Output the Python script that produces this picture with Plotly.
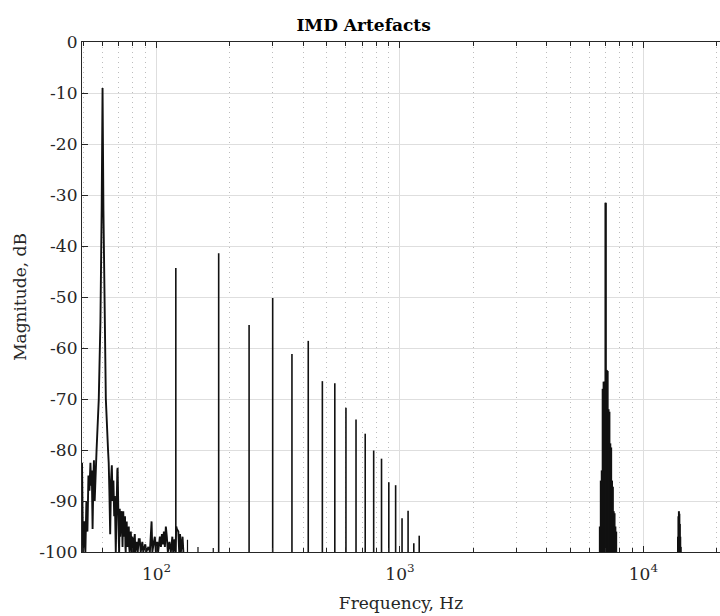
import math
import plotly.graph_objects as go

# ---- spectrum data -------------------------------------------------------
# Low band: noise floor plus the leakage skirt of the 60 Hz tone
LF_FREQ_HZ = [49.4, 49.9, 50.5, 51.0, 51.5, 52.0, 52.5, 53.0, 53.5, 53.9,
              54.2, 54.6, 55.0, 55.3, 55.7, 56.3, 56.7, 57.9, 58.8, 59.5,
              60.0, 60.5, 61.1, 61.9, 63.2, 63.6, 64.0, 64.5, 65.0, 65.5,
              66.0, 66.5, 67.0, 67.4, 68.0, 68.4, 68.7, 69.0, 69.2, 69.5,
              69.7, 70.0, 70.2, 70.4, 70.6, 70.9, 71.1, 71.3, 71.6, 72.0,
              72.3, 72.5, 72.8, 73.0, 73.3, 73.7, 74.0, 74.2, 74.5, 74.7,
              75.0, 75.4, 75.8, 76.2, 76.5, 76.9, 77.2, 77.5, 78.0, 78.4,
              78.8, 79.1, 79.5, 79.8, 80.2, 80.6, 81.0, 81.4, 81.8, 82.2,
              82.9, 83.7, 84.5, 85.3, 86.1, 87.4, 88.2, 89.9, 90.7, 92.6,
              93.9, 95.4, 96.1, 97.5, 98.4, 99.3, 100.6, 101.5, 103.2, 104.2,
              105.2, 106.2, 107.2, 108.2, 109.2, 110.2, 111.3, 112.9, 114.5, 116.1,
              117.0, 118.5, 119.5, 120.5, 121.2, 122.9, 123.9, 124.9, 125.9, 127.9,
              128.9]
LF_LEVEL_DB = [-82.5, -100, -94, -100, -90, -96, -85, -88, -82.5, -87,
               -84, -95.5, -86, -82, -90, -83, -80, -70, -55, -33,
               -9, -33, -55, -70, -80, -82.5, -88, -96.5, -86, -83,
               -90, -86, -93, -89, -100, -88, -90, -84, -83.5, -95,
               -92, -98, -100, -92, -91.5, -97, -93, -95, -92.5, -92,
               -97, -99, -93, -92, -96, -97, -94, -93, -99, -100,
               -95, -94, -99, -98, -96, -95, -99, -100, -97, -96,
               -99, -100, -97, -97.5, -100, -100, -98, -96.5, -100, -99,
               -98, -100, -97.5, -97.5, -100, -98, -100, -98.5, -100, -99,
               -100, -94, -100, -98, -97, -100, -98, -100, -97, -99,
               -96.5, -98.5, -96, -99, -95, -97, -100, -98, -100, -97,
               -100, -97.5, -100, -95, -95.5, -96, -100, -96.5, -100, -97,
               -100]

# Harmonics of the 60 Hz tone
HARM_FREQ_HZ = [120, 180, 240, 300, 360, 420, 480, 540, 600, 660,
                720, 780, 840, 900, 960, 1020, 1080, 1140, 1200]
HARM_LEVEL_DB = [-44.3, -41.4, -55.5, -50.2, -61.2, -58.6, -66.5, -66.9, -71.7, -74.0,
                 -76.8, -80.1, -81.7, -86.3, -86.9, -93.4, -91.9, -98.3, -96.8]

# Small spurs just above the floor
SPUR_FREQ_HZ = [134, 148, 171]
SPUR_LEVEL_DB = [-97.6, -99, -99.2]

# 7 kHz tone with its intermodulation sidebands
SB_FREQ_HZ = [6640, 6700, 6760, 6820, 6880, 6940, 7000, 7060, 7120, 7180,
              7240, 7300, 7360, 7420, 7480, 7540, 7600, 7660, 7720]
SB_LEVEL_DB = [-95, -86, -84, -68, -66.6, -66.6, -31.5, -64.3, -64.5, -72,
               -72.5, -78.7, -79.5, -86, -87.2, -92, -92.4, -95, -96]

# Second harmonic of the 7 kHz tone
H2_FREQ_HZ = [13880, 13940, 14000, 14060, 14120, 14180, 14240]
H2_LEVEL_DB = [-97, -93, -92, -92.5, -94.5, -97, -99]

Y_TICKS = [-100, -90, -80, -70, -60, -50, -40, -30, -20, -10, 0]
Y_TICK_LABELS = ["-100", "-90", "-80", "-70", "-60", "-50", "-40", "-30", "-20", "-10", "0"]
X_TICKS = [100, 1000, 10000]
X_TICK_LABELS = ["10<sup>2</sup>", "10<sup>3</sup>", "10<sup>4</sup>"]
X_MINOR_TICKS = [50, 60, 70, 80, 90,
                 200, 300, 400, 500, 600, 700, 800, 900,
                 2000, 3000, 4000, 5000, 6000, 7000, 8000, 9000,
                 20000]

X_LIMITS_HZ = [49.4, 20650]
Y_LIMITS_DB = [-100, 0]
FLOOR_DB = Y_LIMITS_DB[0]

FONT = "DejaVu Serif"
LINE = "#111111"
AXIS = "#262626"


def stems(freqs, levels):
    """Vertical lines from the axis floor up to each spectral line."""
    xs, ys = [], []
    for f, v in zip(freqs, levels):
        xs += [f, f, None]
        ys += [FLOOR_DB, v, None]
    return xs, ys


fig = go.Figure()

fig.add_trace(go.Scatter(x=LF_FREQ_HZ, y=LF_LEVEL_DB, mode="lines",
                         line=dict(color=LINE, width=1.9), showlegend=False))

for fr, lv, w in [(HARM_FREQ_HZ, HARM_LEVEL_DB, 1.6),
                  (SPUR_FREQ_HZ, SPUR_LEVEL_DB, 1.2),
                  (SB_FREQ_HZ, SB_LEVEL_DB, 2.4),
                  (H2_FREQ_HZ, H2_LEVEL_DB, 2.0)]:
    sx, sy = stems(fr, lv)
    fig.add_trace(go.Scatter(x=sx, y=sy, mode="lines",
                             line=dict(color=LINE, width=w), showlegend=False))

fig.update_layout(
    width=720, height=616,
    margin=dict(l=82, r=0, t=42, b=64),
    paper_bgcolor="white", plot_bgcolor="white",
    font=dict(family=FONT, size=17, color=AXIS),
    title=dict(text="<b>IMD Artefacts</b>", x=0.505, xanchor="center",
               y=0.96, yanchor="middle",
               font=dict(family=FONT, size=17, color="#000000")),
)

fig.update_xaxes(
    type="log",
    range=[math.log10(X_LIMITS_HZ[0]), math.log10(X_LIMITS_HZ[1])],
    tickvals=X_TICKS, ticktext=X_TICK_LABELS,
    ticks="inside", ticklen=6, tickcolor=AXIS,
    ticklabelstandoff=6,
    showline=True, linecolor=AXIS, linewidth=1.2, mirror="ticks",
    showgrid=True, gridcolor="#dedede", gridwidth=1,
    zeroline=False,
    minor=dict(tickmode="array", tickvals=X_MINOR_TICKS,
               ticks="inside", ticklen=4, tickcolor=AXIS,
               showgrid=True, gridcolor="#bdbdbd", griddash="1px,4px"),
    title=dict(text="Frequency, Hz", font=dict(size=17), standoff=14),
    tickfont=dict(size=17),
)

fig.update_yaxes(
    range=Y_LIMITS_DB,
    tickvals=Y_TICKS, ticktext=Y_TICK_LABELS,
    ticks="inside", ticklen=6, tickcolor=AXIS,
    showline=True, linecolor=AXIS, linewidth=1.2, mirror=False,
    showgrid=True, gridcolor="#dedede", gridwidth=1,
    zeroline=False,
    title=dict(text="Magnitude, dB", font=dict(size=17), standoff=8),
    tickfont=dict(size=17),
)

fig.write_html("out.html")
